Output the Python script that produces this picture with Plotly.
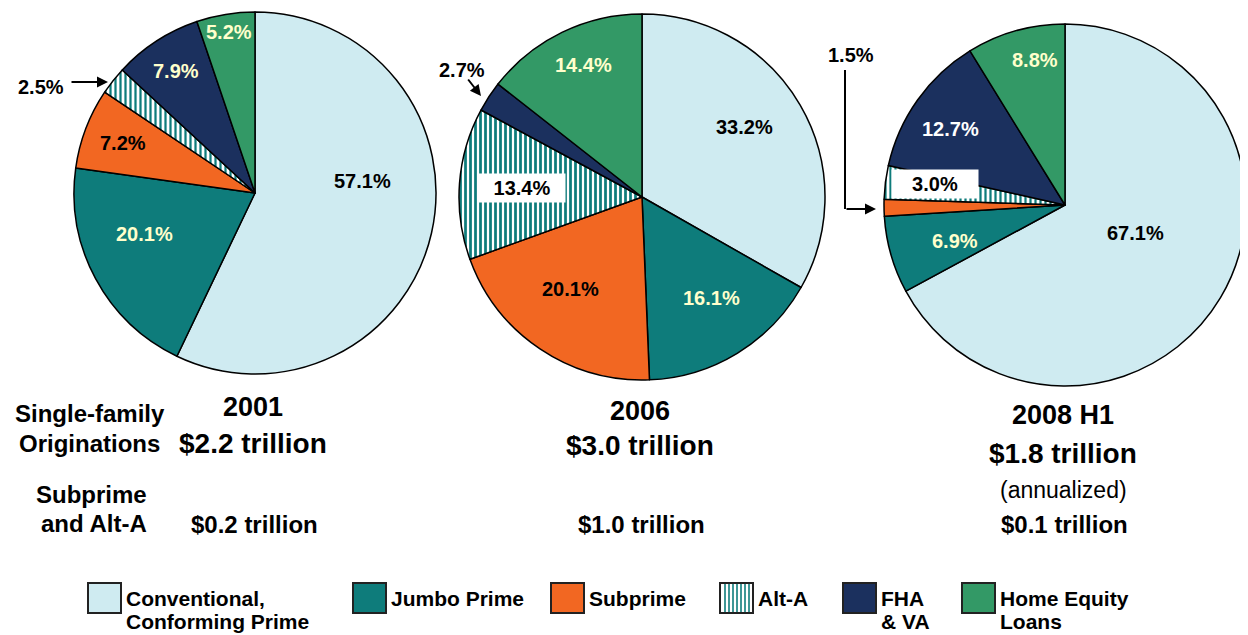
import math
import plotly.graph_objects as go

# the page puts the figure 8px in from the top-left corner, so the figure is
# sized to end exactly at the window edge and all pixel positions are shifted
OFF = 8
W, H = 1248 - OFF, 635 - OFF


def X(px):
    return (px - OFF) / W


def Y(py):
    return 1 - (py - OFF) / H


categories = ["Conventional, Conforming Prime", "Jumbo Prime", "Subprime", "Alt-A", "FHA & VA", "Home Equity Loans"]
legend_labels = ["Conventional,<br>Conforming Prime", "Jumbo Prime", "Subprime", "Alt-A", "FHA<br>& VA", "Home Equity<br>Loans"]
colors = ["#CFEBF1", "#0E7C7B", "#F26722", "#FFFFFF", "#1B305E", "#339966"]

years = ["2001", "2006", "2008 H1"]
totals = ["$2.2 trillion", "$3.0 trillion", "$1.8 trillion"]
subprime_alta = ["$0.2 trillion", "$1.0 trillion", "$0.1 trillion"]

share_2001 = [57.1, 20.1, 7.2, 2.5, 7.9, 5.2]
share_2006 = [33.2, 16.1, 20.1, 13.4, 2.7, 14.4]
share_2008 = [67.1, 6.9, 1.5, 3.0, 12.7, 8.8]
shares = [share_2001, share_2006, share_2008]

# pie geometry in reference pixels: center x, center y, radius
geom = [(255, 193, 181), (642, 197, 183), (1065, 205, 181)]

# label placement: radial fraction and angle nudge (deg), None = label drawn with arrow
label_frac = [
    [0.60, 0.65, 0.78, None, 0.80, 0.90],
    [0.68, 0.67, 0.64, 0.66, None, 0.79],
    [0.42, 0.64, None, 0.73, 0.76, 0.82],
]
label_nudge = [
    [-19, 8, 0, 0, 0, 0],
    [-4, -3, 4, 0, 0, 2],
    [-9, -2, 0, 2, -2, 4],
]
cream = "#FFFFCC"
label_color = [
    ["black", cream, "black", "black", cream, cream],
    ["black", cream, "black", "black", "white", cream],
    ["black", cream, "black", "black", "white", cream],
]
alta_solidity = [0.45, 0.55, 0.45]

FONT = "Liberation Sans, Arial, sans-serif"

fig = go.Figure()

for i, vals in enumerate(shares):
    cx, cy, r = geom[i]
    fig.add_trace(go.Pie(
        values=vals,
        labels=categories,
        sort=False,
        direction="clockwise",
        rotation=0,
        textinfo="none",
        hoverinfo="label+value",
        showlegend=False,
        domain=dict(x=[X(cx - r), X(cx + r)], y=[Y(cy + r), Y(cy - r)]),
        marker=dict(
            colors=colors,
            line=dict(color="black", width=1.5),
            pattern=dict(
                shape=["", "", "", "|", "", ""],
                fgcolor="#0E7C7B",
                bgcolor="white",
                size=5,
                solidity=alta_solidity[i],
            ),
        ),
    ))

    # slice labels, placed at the slice mid-angle
    cum = 0
    total = sum(vals)
    for j, v in enumerate(vals):
        mid = (cum + v / 2) / total * 360
        cum += v
        if label_frac[i][j] is None:
            continue
        th = math.radians(mid + label_nudge[i][j])
        px = cx + label_frac[i][j] * r * math.sin(th)
        py = cy - label_frac[i][j] * r * math.cos(th)
        boxed = j == 3
        fig.add_annotation(
            x=X(px), y=Y(py), xref="paper", yref="paper",
            xanchor="center", yanchor="middle",
            text=f"<b>{v:.1f}%</b>", showarrow=False,
            font=dict(family=FONT, size=20, color=label_color[i][j]),
            bgcolor="white" if boxed else None,
            width=84 if boxed else None,
            height=26 if boxed else None,
        )


def txt(x, y, s, size, bold=True, align="center", xanchor="center", yanchor="middle"):
    fig.add_annotation(x=X(x), y=Y(y), xref="paper", yref="paper", text=f"<b>{s}</b>" if bold else s,
                       showarrow=False, align=align, xanchor=xanchor, yanchor=yanchor,
                       font=dict(family=FONT, size=size, color="black"))


def arrow(x, y, ax, ay):
    fig.add_annotation(x=X(x), y=Y(y), xref="paper", yref="paper", text="", showarrow=True,
                       ax=ax, ay=ay, arrowhead=2, arrowsize=1.1, arrowwidth=2, arrowcolor="black")


# small-slice callouts
txt(41, 87, f"{share_2001[3]:.1f}%", 20)
arrow(108, 82, -38, 0)
txt(462, 70, f"{share_2006[4]:.1f}%", 20)
arrow(481, 96, -14, -18)
txt(851, 55, f"{share_2008[2]:.1f}%", 20)
fig.add_shape(type="line", x0=X(845), x1=X(845), y0=Y(70), y1=Y(209),
              xref="paper", yref="paper", line=dict(color="black", width=2))
arrow(876, 209, -31, 0)

# captions under the pies
txt(90, 413, "Single-family", 24)
txt(89, 443, "Originations", 24)
txt(91, 494, "Subprime", 24)
txt(94, 523, "and Alt-A", 24)

title_x = [253, 640, 1063]
title_y = [407, 411, 415]
total_y = [443, 445, 453]
for i in range(3):
    txt(title_x[i], title_y[i], years[i], 27)
    txt(title_x[i], total_y[i], totals[i], 28)
    txt(title_x[i] + 1, 524, subprime_alta[i], 24)
txt(1063, 490, "(annualized)", 23, bold=False)

# legend boxes
legend_x = [88, 353, 551, 720, 843, 962]
for k, lab in enumerate(legend_labels):
    x0 = legend_x[k]
    fig.add_shape(type="rect", x0=X(x0), x1=X(x0 + 33), y0=Y(613), y1=Y(583),
                  xref="paper", yref="paper", fillcolor=colors[k],
                  line=dict(color="#222222", width=2))
    if k == 3:
        for s in range(7):
            xs = x0 + 5 + s * 4
            fig.add_shape(type="line", x0=X(xs), x1=X(xs), y0=Y(612), y1=Y(584),
                          xref="paper", yref="paper", line=dict(color="#0E7C7B", width=1.6))
    for n, line in enumerate(lab.split("<br>")):
        txt(x0 + 36, 598 + n * 23, line, 21, align="left", xanchor="left")

fig.update_layout(
    width=W, height=H,
    margin=dict(l=0, r=0, t=0, b=0),
    paper_bgcolor="white",
    plot_bgcolor="white",
    font=dict(family=FONT),
)

fig.write_html("out.html")
